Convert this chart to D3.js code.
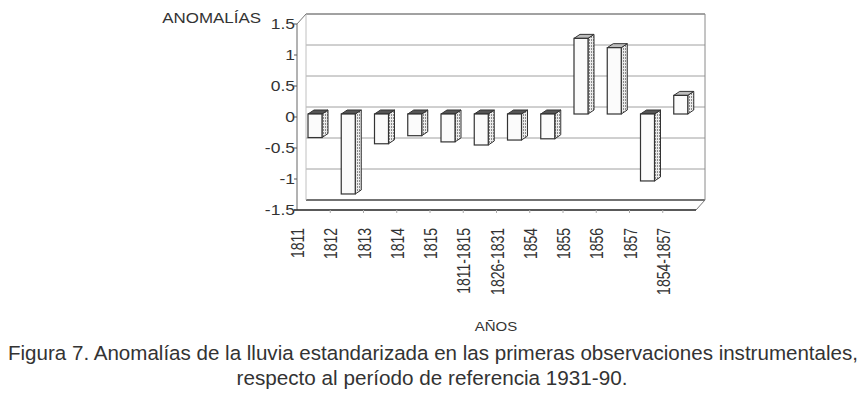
<!DOCTYPE html>
<html>
<head>
<meta charset="utf-8">
<script src="https://cdn.jsdelivr.net/npm/d3@7"></script>
<style>
  body { margin: 0; background: #fff; }
  svg { display: block; font-family: "Liberation Sans", Arial, sans-serif; }
</style>
</head>
<body>
<div id="chart"></div>
<script>
// datos
const anios = ["1811", "1812", "1813", "1814", "1815", "1811-1815", "1826-1831", "1854", "1855", "1856", "1857", "1854-1857"]
const anomalias = [-0.38, -1.29, -0.48, -0.35, -0.45, -0.5, -0.42, -0.4, 1.22, 1.07, -1.08, 0.3]
const yTicks = [-1.5, -1, -0.5, 0, 0.5, 1, 1.5]
const yTickLabels = ["-1.5", "-1", "-0.5", "0", "0.5", "1", "1.5"]

const data = anios.map((a, i) => ({anio: a, valor: anomalias[i]}))

const width = 862, height = 396
const ink = "#333"
// el texto del grafico sale algo ensanchado en el original
const sx = 1.25

// desplazamiento de profundidad (frente -> fondo)
const depth = {dx: 9, dy: -10}
// cara lateral / superior de cada barra
const barDepth = {dx: 6, dy: -4}

const svg = d3.select("#chart").append("svg")
    .attr("width", width)
    .attr("height", height)

const x = d3.scaleBand()
    .domain(anios)
    .range([297, 696])

const y = d3.scaleLinear()
    .domain([-1.5, 1.5])
    .range([210, 24])

const x0 = x.range()[0], x1 = x.range()[1]

// patron rayado para la cara lateral
const defs = svg.append("defs")
const pat = defs.append("pattern")
    .attr("id", "rayas")
    .attr("width", 2).attr("height", 3)
    .attr("patternUnits", "userSpaceOnUse")
pat.append("rect").attr("width", 2).attr("height", 3).attr("fill", "#ececec")
pat.append("rect").attr("x", 1).attr("width", 1).attr("height", 2).attr("fill", "#8a8a8a")

// pared del fondo
const back = svg.append("g").attr("transform", `translate(${depth.dx},${depth.dy})`)

back.selectAll("line.grid")
    .data(yTicks)
    .join("line")
    .attr("class", "grid")
    .attr("x1", x0).attr("x2", x1)
    .attr("y1", d => y(d)).attr("y2", d => y(d))
    .attr("stroke", d => d === 1.5 || d === -1.5 ? "#444" : "#a0a0a0")
    .attr("stroke-width", d => d === -1.5 ? 1.3 : 1)

back.append("line")
    .attr("x1", x0).attr("x2", x0)
    .attr("y1", y(1.5)).attr("y2", y(-1.5))
    .attr("stroke", "#c0c0c0")

back.append("line")
    .attr("x1", x1).attr("x2", x1)
    .attr("y1", y(1.5)).attr("y2", y(-1.5))
    .attr("stroke", "#8a8a8a")

// diagonales
svg.append("line")
    .attr("x1", x0).attr("y1", y(1.5))
    .attr("x2", x0 + depth.dx).attr("y2", y(1.5) + depth.dy)
    .attr("stroke", "#777")
svg.append("line")
    .attr("x1", x1).attr("y1", y(-1.5))
    .attr("x2", x1 + depth.dx).attr("y2", y(-1.5) + depth.dy)
    .attr("stroke", "#777")

// eje frontal
svg.append("line")
    .attr("x1", x0).attr("x2", x0)
    .attr("y1", y(1.5)).attr("y2", y(-1.5))
    .attr("stroke", "#666")

svg.append("line")
    .attr("x1", x0 - 3).attr("x2", x1)
    .attr("y1", y(-1.5)).attr("y2", y(-1.5))
    .attr("stroke", "#222")
    .attr("stroke-width", 1.3)

svg.append("g")
    .selectAll("line")
    .data(yTicks)
    .join("line")
    .attr("x1", x0 - 3).attr("x2", x0)
    .attr("y1", d => y(d)).attr("y2", d => y(d))
    .attr("stroke", "#555")

svg.append("g")
    .selectAll("line")
    .data(anios.slice(1))
    .join("line")
    .attr("x1", d => x(d)).attr("x2", d => x(d))
    .attr("y1", y(-1.5)).attr("y2", y(-1.5) + 3)
    .attr("stroke", "#aaa")

svg.append("g")
    .selectAll("text")
    .data(yTicks)
    .join("text")
    .attr("transform", d => `translate(${x0 - 2},${y(d)}) scale(${sx},1)`)
    .attr("dy", "0.36em")
    .attr("text-anchor", "end")
    .attr("font-size", 14)
    .attr("fill", ink)
    .text((d, i) => yTickLabels[i])

// barras
const barW = 14
const bx = d => x(d.anio) + 11
const by0 = y(0) - 3
const yb = v => y(v) - 3

const bars = svg.append("g")
    .selectAll("g")
    .data(data)
    .join("g")

// cara lateral
bars.append("polygon")
    .attr("points", d => {
        const xr = bx(d) + barW
        const t = Math.min(yb(d.valor), by0), b = Math.max(yb(d.valor), by0)
        return [[xr, t], [xr + barDepth.dx, t + barDepth.dy], [xr + barDepth.dx, b + barDepth.dy], [xr, b]].join(" ")
    })
    .attr("fill", "url(#rayas)")
    .attr("stroke", ink)
    .attr("stroke-width", 1)

// cara superior
bars.append("polygon")
    .attr("points", d => {
        const l = bx(d), r = bx(d) + barW
        const t = Math.min(yb(d.valor), by0)
        return [[l, t], [l + barDepth.dx, t + barDepth.dy], [r + barDepth.dx, t + barDepth.dy], [r, t]].join(" ")
    })
    .attr("fill", d => d.valor < 0 ? "#555" : "#bdbdbd")
    .attr("stroke", ink)
    .attr("stroke-width", 1)

// cara frontal
bars.append("rect")
    .attr("x", d => bx(d))
    .attr("y", d => Math.min(yb(d.valor), by0))
    .attr("width", barW)
    .attr("height", d => Math.abs(yb(d.valor) - by0))
    .attr("fill", "#fbfbfb")
    .attr("stroke", ink)
    .attr("stroke-width", 1.2)

// etiquetas de los años
svg.append("g")
    .selectAll("text")
    .data(anios)
    .join("text")
    .attr("transform", d => `translate(${x(d) + 0.5},228) scale(1.3,1) rotate(-90)`)
    .attr("dy", "0.36em")
    .attr("text-anchor", "end")
    .attr("font-size", 14)
    .attr("fill", ink)
    .text(d => d)

// titulos de ejes
svg.append("text")
    .attr("transform", `translate(261,23) scale(1.21,1)`)
    .attr("text-anchor", "end")
    .attr("font-size", 14)
    .attr("fill", ink)
    .text("ANOMALÍAS")

svg.append("text")
    .attr("transform", `translate(496,331) scale(1.2,1)`)
    .attr("text-anchor", "middle")
    .attr("font-size", 12.5)
    .attr("fill", ink)
    .text("AÑOS")

// pie de figura
svg.append("text")
    .attr("x", 433).attr("y", 360)
    .attr("text-anchor", "middle")
    .attr("font-size", 20.5)
    .attr("textLength", 850)
    .attr("lengthAdjust", "spacingAndGlyphs")
    .attr("fill", ink)
    .text("Figura 7. Anomalías de la lluvia estandarizada en las primeras observaciones instrumentales,")

svg.append("text")
    .attr("x", 432).attr("y", 385)
    .attr("text-anchor", "middle")
    .attr("font-size", 20.5)
    .attr("textLength", 391)
    .attr("lengthAdjust", "spacingAndGlyphs")
    .attr("fill", ink)
    .text("respecto al período de referencia 1931-90.")
</script>
</body>
</html>
